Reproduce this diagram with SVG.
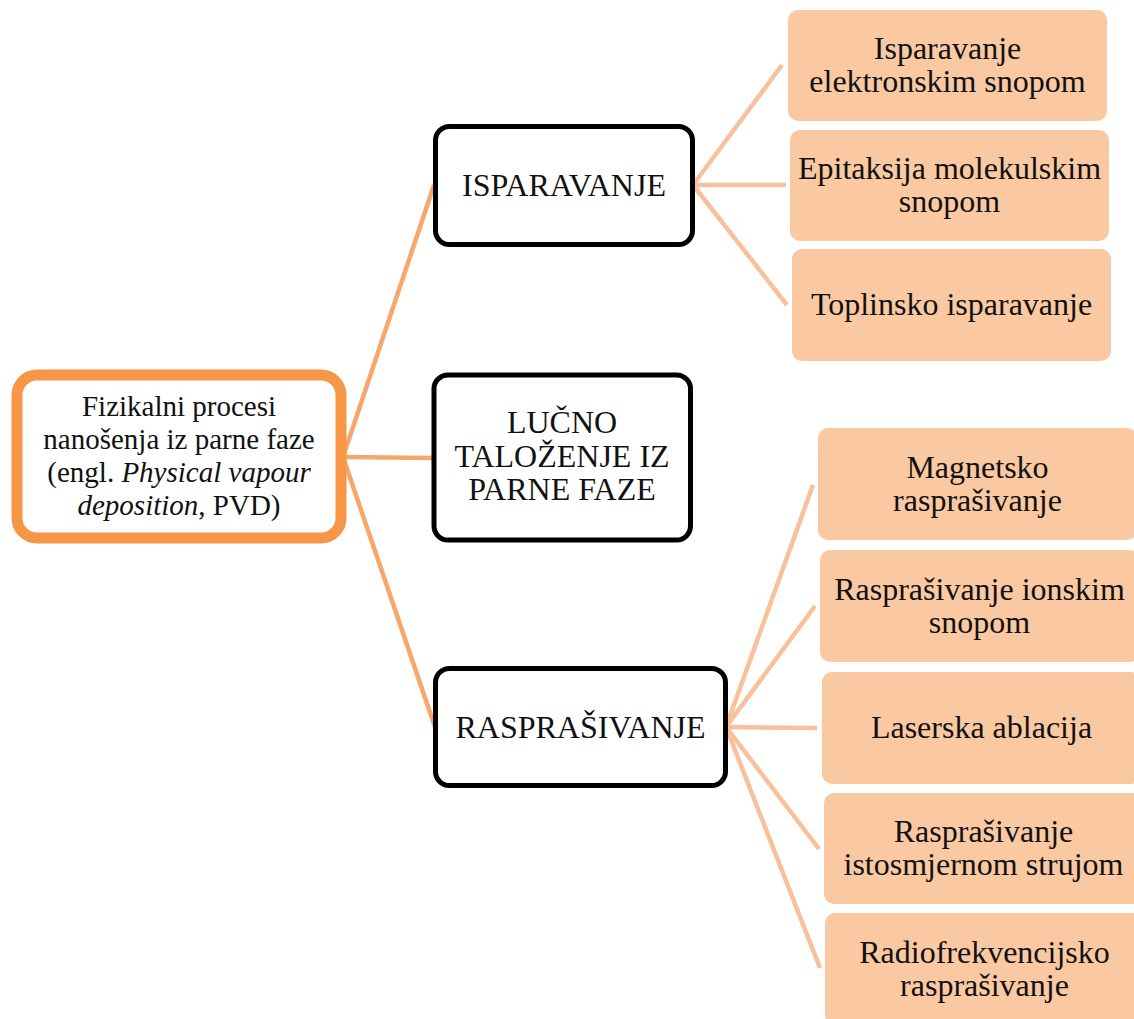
<svg xmlns="http://www.w3.org/2000/svg" width="1134" height="1019" viewBox="0 0 1134 1019">
<style>
text{font-family:"Liberation Serif","Times New Roman",serif;fill:#111;text-anchor:middle}
.root{fill:#fff;stroke:#F79646;stroke-width:11}
.mid{fill:#fff;stroke:#000;stroke-width:5}
.leaf{fill:#FAC9A2;stroke:none}
.c1{stroke:#F9A66B;stroke-width:4.5;fill:none;stroke-linecap:butt}
.c2{stroke:#F9C09C;stroke-width:4.5;fill:none}
.t0{font-size:29px}
.t1{font-size:32px}
.t2{font-size:32px}
</style>
<rect width="1134" height="1019" fill="#fff"/>
<g id="connectors">
<line class="c1" x1="343" y1="457" x2="434" y2="185"/>
<line class="c1" x1="343" y1="457" x2="432" y2="458"/>
<line class="c1" x1="343" y1="457" x2="435" y2="727"/>
<line class="c2" x1="693" y1="185" x2="782" y2="65"/>
<line class="c2" x1="693" y1="185" x2="786" y2="185"/>
<line class="c2" x1="693" y1="185" x2="787" y2="305"/>
<line class="c2" x1="726" y1="727" x2="813" y2="485"/>
<line class="c2" x1="726" y1="727" x2="815" y2="606"/>
<line class="c2" x1="726" y1="727" x2="817" y2="728"/>
<line class="c2" x1="726" y1="727" x2="819" y2="849"/>
<line class="c2" x1="726" y1="727" x2="820" y2="968"/>
</g>
<g id="root">
<rect class="root" x="17" y="375" width="324" height="163" rx="20"/>
<text class="t0" x="179" y="416">Fizikalni procesi</text>
<text class="t0" x="179" y="449">nanošenja iz parne faze</text>
<text class="t0" x="179" y="482">(engl. <tspan font-style="italic">Physical vapour</tspan></text>
<text class="t0" x="179" y="515"><tspan font-style="italic">deposition</tspan>, PVD)</text>
</g>
<g id="isparavanje">
<rect class="mid" x="435.5" y="126.5" width="257" height="118" rx="14"/>
<text class="t1" x="564" y="196">ISPARAVANJE</text>
</g>
<g id="lucno">
<rect class="mid" x="434" y="375" width="256.5" height="165" rx="14"/>
<text class="t1" x="562" y="433">LUČNO</text>
<text class="t1" x="562" y="467">TALOŽENJE IZ</text>
<text class="t1" x="562" y="500">PARNE FAZE</text>
</g>
<g id="rasprasivanje">
<rect class="mid" x="435.5" y="668.5" width="290" height="117" rx="14"/>
<text class="t1" x="580.5" y="738">RASPRAŠIVANJE</text>
</g>
<g id="leaf-elektronskim">
<rect class="leaf" x="788" y="10" width="319" height="111" rx="10"/>
<text class="t2" x="947.5" y="59">Isparavanje</text>
<text class="t2" x="947.5" y="92">elektronskim snopom</text>
</g>
<g id="leaf-epitaksija">
<rect class="leaf" x="790" y="130" width="319" height="111" rx="10"/>
<text class="t2" x="949.5" y="179">Epitaksija molekulskim</text>
<text class="t2" x="949.5" y="212">snopom</text>
</g>
<g id="leaf-toplinsko">
<rect class="leaf" x="792" y="249" width="319" height="112" rx="10"/>
<text class="t2" x="951.5" y="315">Toplinsko isparavanje</text>
</g>
<g id="leaf-magnetsko">
<rect class="leaf" x="818" y="428" width="319" height="112" rx="10"/>
<text class="t2" x="977.5" y="477.5">Magnetsko</text>
<text class="t2" x="977.5" y="510.5">rasprašivanje</text>
</g>
<g id="leaf-ionskim">
<rect class="leaf" x="820" y="550" width="319" height="112" rx="10"/>
<text class="t2" x="979.5" y="599.5">Rasprašivanje ionskim</text>
<text class="t2" x="979.5" y="632.5">snopom</text>
</g>
<g id="leaf-laserska">
<rect class="leaf" x="822" y="672" width="319" height="112" rx="10"/>
<text class="t2" x="981.5" y="738">Laserska ablacija</text>
</g>
<g id="leaf-istosmjernom">
<rect class="leaf" x="824" y="793" width="319" height="111" rx="10"/>
<text class="t2" x="983.5" y="842">Rasprašivanje</text>
<text class="t2" x="983.5" y="875">istosmjernom strujom</text>
</g>
<g id="leaf-radiofrekvencijsko">
<rect class="leaf" x="825" y="913" width="319" height="112" rx="10"/>
<text class="t2" x="984.5" y="962.5">Radiofrekvencijsko</text>
<text class="t2" x="984.5" y="995.5">rasprašivanje</text>
</g>
</svg>
